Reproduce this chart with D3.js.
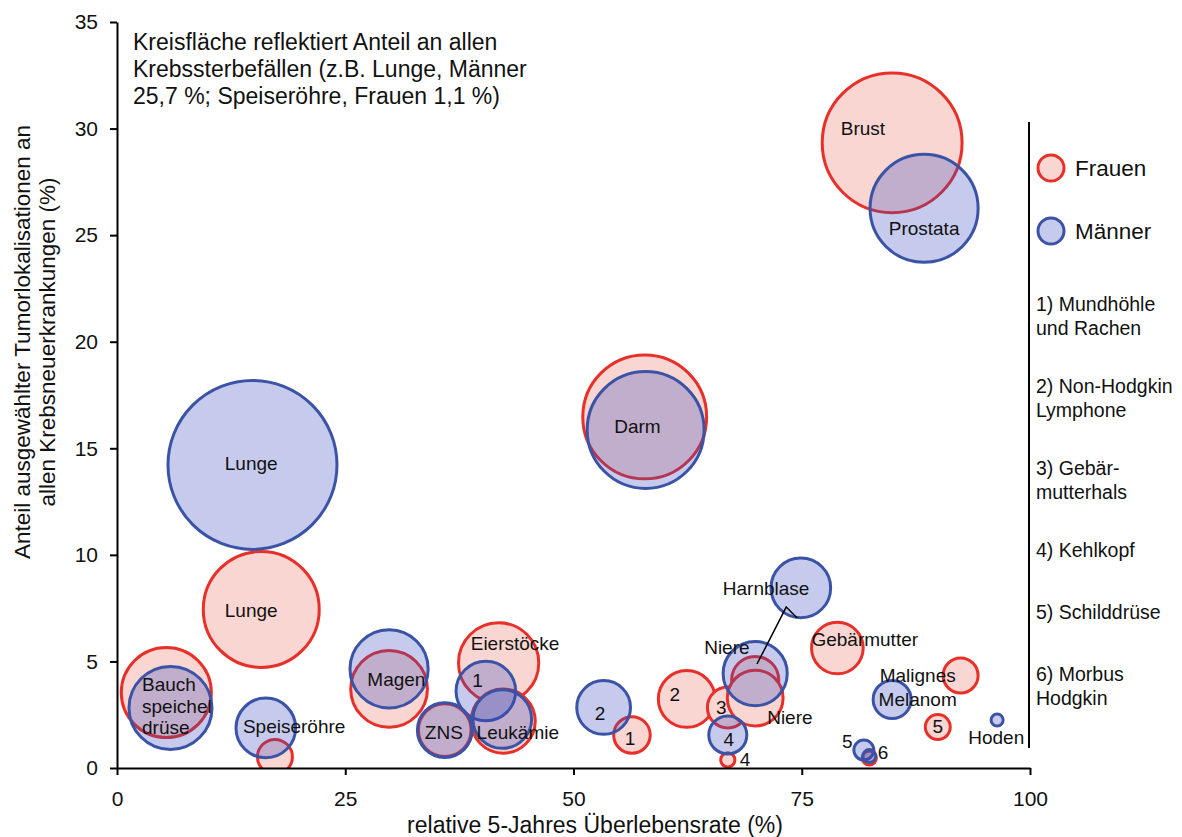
<!DOCTYPE html>
<html>
<head>
<meta charset="utf-8">
<script src="https://cdn.jsdelivr.net/npm/d3@7"></script>
<style>
  html, body { margin: 0; padding: 0; background: #fff; }
  svg { display: block; font-family: "Liberation Sans", Arial, Helvetica, sans-serif; }
</style>
</head>
<body>
<svg id="chart" width="1182" height="837"></svg>
<script>
// ---------- DATA ----------
// Frauen (women)
const womenSites = ["Brust","Lunge","Darm","Bauchspeicheldrüse","Magen","Eierstöcke","Leukämie","ZNS","Speiseröhre",
  "Mundhöhle und Rachen","Non-Hodgkin Lymphome","Gebärmutterhals","Kehlkopf","Harnblase","Niere","Gebärmutter",
  "Malignes Melanom","Schilddrüse","Morbus Hodgkin"];
const womenSurvival  = [84.9, 15.8, 57.8, 5.4, 29.8, 41.8, 42.3, 35.9, 17.3, 56.4, 62.4, 66.9, 66.9, 69.9, 69.9, 78.9, 92.4, 89.9, 82.4];
const womenIncidence = [29.33, 7.44, 16.47, 3.54, 3.71, 4.93, 2.2, 1.78, 0.52, 1.55, 3.24, 2.84, 0.38, 4.13, 3.28, 5.63, 4.34, 1.92, 0.47];
const womenMortality = [17.6, 12.1, 13.8, 7.3, 5.3, 5.8, 3.7, 2.5, 1.1, 1.2, 2.9, 1.5, 0.18, 2.0, 2.8, 2.4, 1.1, 0.56, 0.18];

// Männer (men)
const menSites = ["Prostata","Lunge","Darm","Bauchspeicheldrüse","Magen","Mundhöhle und Rachen","Leukämie","ZNS","Speiseröhre",
  "Non-Hodgkin Lymphome","Kehlkopf","Harnblase","Niere","Malignes Melanom","Schilddrüse","Morbus Hodgkin","Hoden"];
const menSurvival  = [88.4, 14.84, 57.9, 5.86, 29.8, 40.4, 42.2, 35.9, 16.3, 53.3, 66.9, 74.9, 69.9, 84.9, 81.8, 82.4, 96.4];
const menIncidence = [26.26, 14.22, 15.86, 2.82, 4.65, 3.61, 2.3, 1.78, 1.88, 2.84, 1.55, 8.45, 4.43, 3.21, 0.84, 0.56, 2.25];
const menMortality = [10.5, 25.7, 12.3, 6.2, 5.5, 3.2, 3.1, 2.7, 3.2, 2.6, 1.3, 3.2, 3.7, 1.3, 0.36, 0.15, 0.13];

const xTicks = [0, 25, 50, 75, 100];
const yTicks = [0, 5, 10, 15, 20, 25, 30, 35];

const noteLines = [["1) Mundhöhle","und Rachen"],["2) Non-Hodgkin","Lymphone"],["3) Gebär-","mutterhals"],
  ["4) Kehlkopf"],["5) Schilddrüse"],["6) Morbus","Hodgkin"]];
const annotationLines = ["Kreisfläche reflektiert Anteil an allen","Krebssterbefällen (z.B. Lunge, Männer","25,7 %; Speiseröhre, Frauen 1,1 %)"];

// label text with anchor in data units
const labelText = ["Brust","Prostata","Lunge","Lunge","Darm","Harnblase","Niere","Niere","Gebärmutter","Malignes","Melanom",
  "5","Hoden","5","6","4","4","3","2","2","1","Eierstöcke","1","Leukämie","ZNS","Magen","Speiseröhre"];
const labelX = [81.7, 88.4, 14.7, 14.7, 57.0, 71.1, 66.8, 73.7, 81.9, 87.7, 87.7, 89.9, 96.3, 80.0, 83.9, 67.0, 68.8, 66.2, 61.1, 52.9, 56.2, 43.6, 39.5, 43.9, 35.8, 30.6, 19.4];
const labelY = [30.0, 25.3, 14.3, 7.4, 16.05, 8.45, 5.68, 2.39, 6.05, 4.36, 3.24, 1.97, 1.45, 1.27, 0.75, 1.36, 0.42, 2.86, 3.47, 2.58, 1.41, 5.87, 4.13, 1.69, 1.69, 4.18, 1.97];
const bauchLines = ["Bauch","speichel","drüse"];
const bauchY = [3.94, 2.91, 1.92];
const bauchX = 2.74;
const leaderX = [74.5, 73.3, 70.1];
const leaderY = [7.04, 7.55, 4.88];

// ---------- LAYOUT ----------
const svg = d3.select("#chart");
const M = {left: 117, right: 1030, top: 22, bottom: 768};
const x = d3.scaleLinear().domain([0, 100]).range([M.left, M.right]);
const y = d3.scaleLinear().domain([0, 35]).range([M.bottom, M.top]);
const r = d3.scaleSqrt().domain([0, 25.7]).range([0, 84.5]);

const RED = "#e8302a", RED_FILL = "#f9d6d1";
const BLUE = "#3a53a6", BLUE_FILL = "rgb(50,70,190)";

svg.append("defs").append("clipPath").attr("id", "plotclip")
  .append("rect").attr("x", M.left).attr("y", 0).attr("width", M.right - M.left + 40).attr("height", M.bottom);

const women = womenSites.map((s, i) => ({site: s, sx: womenSurvival[i], inc: womenIncidence[i], mort: womenMortality[i]}));
const men = menSites.map((s, i) => ({site: s, sx: menSurvival[i], inc: menIncidence[i], mort: menMortality[i]}));

const g = svg.append("g").attr("clip-path", "url(#plotclip)");
g.selectAll("circle.w").data(women).join("circle").attr("class", "w")
  .attr("cx", d => x(d.sx)).attr("cy", d => y(d.inc)).attr("r", d => r(d.mort))
  .attr("fill", RED_FILL).attr("stroke", RED).attr("stroke-width", 3);
g.selectAll("circle.m").data(men).join("circle").attr("class", "m")
  .attr("cx", d => x(d.sx)).attr("cy", d => y(d.inc)).attr("r", d => r(d.mort))
  .attr("fill", BLUE_FILL).attr("fill-opacity", 0.28).attr("stroke", BLUE).attr("stroke-width", 3);

// axes
const xAxis = svg.append("g").attr("transform", `translate(0,${M.bottom})`)
  .call(d3.axisBottom(x).tickValues(xTicks).tickSize(7).tickPadding(16).tickSizeOuter(0));
const yAxis = svg.append("g").attr("transform", `translate(${M.left},0)`)
  .call(d3.axisLeft(y).tickValues(yTicks).tickSize(7).tickPadding(12).tickSizeOuter(0));
[xAxis, yAxis].forEach(a => {
  a.select(".domain").attr("stroke", "#000").attr("stroke-width", 2);
  a.selectAll(".tick line").attr("stroke", "#000").attr("stroke-width", 2);
  a.selectAll(".tick text").attr("fill", "#111").style("font-size", "21px").style("font-family", "Liberation Sans, Arial, sans-serif");
});

// axis titles
svg.append("text").attr("x", 595).attr("y", 833)
  .attr("text-anchor", "middle").style("font-size", "23px").attr("fill", "#111")
  .text("relative 5-Jahres Überlebensrate (%)");
const yl = svg.append("text").attr("transform", "translate(30,342) rotate(-90)")
  .attr("text-anchor", "middle").style("font-size", "22.5px").attr("fill", "#111");
yl.append("tspan").attr("x", 0).attr("dy", 0).text("Anteil ausgewählter Tumorlokalisationen an");
yl.append("tspan").attr("x", 0).attr("dy", 25).text("allen Krebsneuerkrankungen (%)");

// annotation
svg.append("g").selectAll("text").data(annotationLines).join("text")
  .attr("x", 133).attr("y", (d, i) => 50 + i * 27)
  .style("font-size", "23px").attr("fill", "#111").text(d => d);

// bubble labels
const labels = labelText.map((t, i) => ({t, lx: labelX[i], ly: labelY[i]}));
svg.append("g").selectAll("text").data(labels).join("text")
  .attr("x", d => x(d.lx)).attr("y", d => y(d.ly)).attr("dy", "0.35em")
  .attr("text-anchor", "middle").style("font-size", "19px").attr("fill", "#111").text(d => d.t);
svg.append("g").selectAll("text").data(bauchLines).join("text")
  .attr("x", x(bauchX)).attr("y", (d, i) => y(bauchY[i])).attr("dy", "0.35em")
  .style("font-size", "19px").attr("fill", "#111").text(d => d);
svg.append("path")
  .attr("d", d3.line().x(d => x(d[0])).y(d => y(d[1]))(leaderX.map((v, i) => [v, leaderY[i]])))
  .attr("fill", "none").attr("stroke", "#000").attr("stroke-width", 1.5);

// right panel
svg.append("line").attr("x1", 1029).attr("x2", 1029).attr("y1", 122).attr("y2", 748)
  .attr("stroke", "#000").attr("stroke-width", 2);
const leg = [{n: "Frauen", s: RED, f: RED_FILL, o: 1}, {n: "Männer", s: BLUE, f: BLUE_FILL, o: 0.28}];
const lg = svg.append("g").selectAll("g").data(leg).join("g")
  .attr("transform", (d, i) => `translate(1051,${168 + i * 63})`);
lg.append("circle").attr("r", 13).attr("fill", d => d.f).attr("fill-opacity", d => d.o)
  .attr("stroke", d => d.s).attr("stroke-width", 3);
lg.append("text").attr("x", 24).attr("dy", "0.35em").style("font-size", "22.5px").attr("fill", "#111").text(d => d.n);

// notes: first-line positions accumulate by number of lines
let acc = 304;
const noteY = noteLines.map(lines => { const v = acc; acc += 62 + 20 * (lines.length - 1); return v; });
const ng = svg.append("g").selectAll("text").data(noteLines).join("text")
  .attr("x", 1036).attr("y", (d, i) => noteY[i]).style("font-size", "19.5px").attr("fill", "#111");
ng.selectAll("tspan").data(d => d).join("tspan")
  .attr("x", 1036).attr("dy", (d, i) => i === 0 ? "0.35em" : 24).text(d => d);
</script>
</body>
</html>
